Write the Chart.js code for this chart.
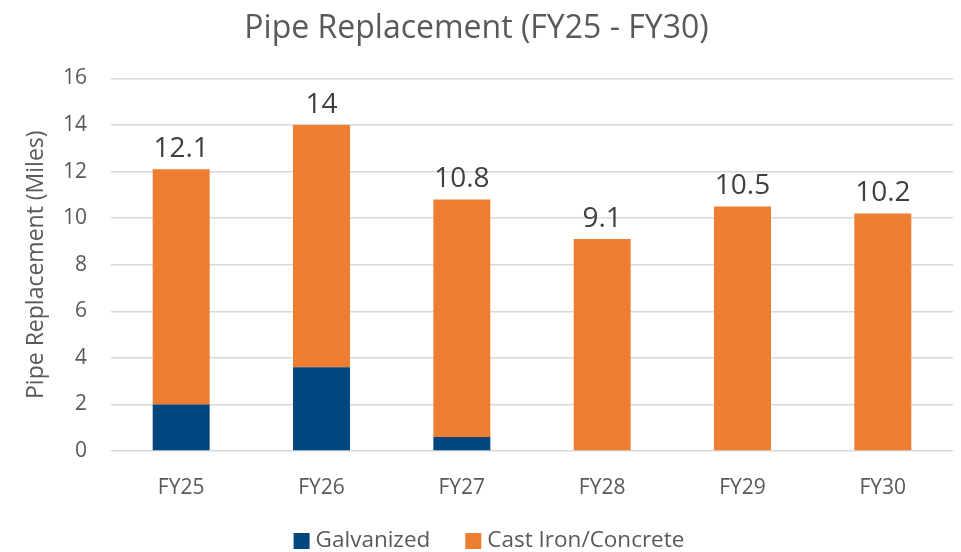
<!DOCTYPE html>
<html>
<head>
<meta charset="utf-8">
<script src="https://cdn.jsdelivr.net/npm/chart.js@4/dist/chart.umd.min.js"></script>
<style>
  html, body { margin: 0; padding: 0; background: #fff; }
  #wrap { width: 961px; height: 552px; }
</style>
</head>
<body>
<div id="wrap"><canvas id="chart"></canvas></div>
<script>
// ---------- DATA ----------
const years = ["FY25", "FY26", "FY27", "FY28", "FY29", "FY30"];
const galvanized = [2.0, 3.6, 0.6, 0, 0, 0];
const castIron = [10.1, 10.4, 10.2, 9.1, 10.5, 10.2];
const totals = [12.1, 14, 10.8, 9.1, 10.5, 10.2];

const FONT = "'Open Sans', sans-serif";
const GREY = "#595959";

// total labels above each stack
const totalLabels = {
  id: "totalLabels",
  afterDatasetsDraw(chart) {
    const ctx = chart.ctx;
    const x = chart.scales.x, y = chart.scales.y;
    ctx.save();
    ctx.font = "28px " + FONT;
    ctx.fillStyle = "#404040";
    ctx.textAlign = "center";
    ctx.textBaseline = "bottom";
    totals.forEach((t, i) => {
      ctx.fillText(String(t), x.getPixelForValue(i), y.getPixelForValue(t) - 6);
    });
    ctx.restore();
  }
};

// legend drawn by hand so it sits where the reference has it
const bottomLegend = {
  id: "bottomLegend",
  afterDraw(chart) {
    const ctx = chart.ctx;
    const sets = chart.data.datasets;
    const box = 16, gapText = 6, gapItem = 35, yMid = 541;
    ctx.save();
    ctx.font = "22.5px " + FONT;
    ctx.textBaseline = "middle";
    let widths = sets.map(d => box + gapText + ctx.measureText(d.label).width);
    let total = widths.reduce((a, b) => a + b, 0) + gapItem * (sets.length - 1);
    let xPos = 489 - total / 2;
    sets.forEach((d, i) => {
      ctx.fillStyle = d.backgroundColor;
      ctx.fillRect(xPos, yMid - box / 2, box, box);
      ctx.fillStyle = GREY;
      ctx.fillText(d.label, xPos + box + gapText, yMid);
      xPos += widths[i] + gapItem;
    });
    ctx.restore();
  }
};

new Chart(document.getElementById("chart"), {
  type: "bar",
  data: {
    labels: years,
    datasets: [
      { label: "Galvanized", data: galvanized, backgroundColor: "#00467f" },
      { label: "Cast Iron/Concrete", data: castIron, backgroundColor: "#ed7d31" }
    ]
  },
  options: {
    responsive: true,
    maintainAspectRatio: false,
    animation: false,
    layout: { padding: { left: 0, right: 8, top: 0, bottom: 41 } },
    datasets: { bar: { categoryPercentage: 0.82, barPercentage: 0.495 } },
    scales: {
      x: {
        stacked: true,
        grid: { display: false },
        border: { display: false },
        ticks: { color: GREY, font: { family: FONT, size: 21 }, padding: 16 },
        afterFit(scale) { scale.height = 60; }
      },
      y: {
        stacked: true,
        min: 0, max: 16,
        ticks: { stepSize: 2, color: GREY, font: { family: FONT, size: 21 }, padding: 24 },
        grid: { color: "#d9d9d9", lineWidth: 1.5, drawTicks: false },
        border: { display: false },
        title: {
          display: true,
          text: "Pipe Replacement (Miles)",
          color: GREY,
          font: { family: FONT, size: 23 },
          padding: { top: 23, bottom: 0 }
        },
        afterFit(scale) { scale.width = 111; }
      }
    },
    plugins: {
      title: {
        display: true,
        text: "Pipe Replacement (FY25 - FY30)",
        color: GREY,
        font: { family: FONT, size: 32, weight: "normal" },
        padding: { top: 10, bottom: 30 }
      },
      legend: { display: false },
      tooltip: { enabled: false }
    }
  },
  plugins: [totalLabels, bottomLegend]
});
</script>
</body>
</html>
